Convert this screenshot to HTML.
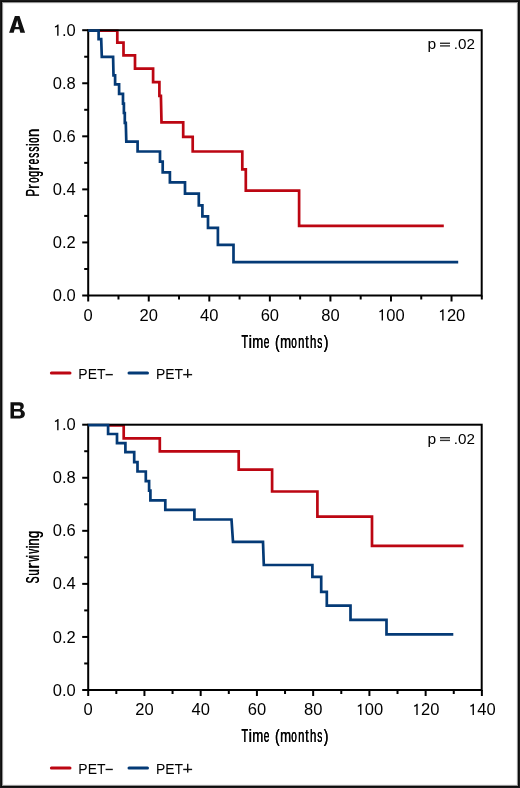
<!DOCTYPE html>
<html><head><meta charset="utf-8"><style>
html,body{margin:0;padding:0;background:#fff;}
body{width:520px;height:788px;overflow:hidden;position:relative;}
.frame{position:absolute;left:0;top:0;width:520px;height:788px;box-shadow:inset 0 0 0 1px #1a1a1a,inset 0 0 0 2px #0c0c0c,inset 0 0 0 3px #929292,inset 0 0 0 4px #f2f2f2;}
svg{position:absolute;left:0;top:0;will-change:transform;}
text{font-family:"Liberation Sans",sans-serif;fill:#000;}
.tk{font-size:16.3px;}
.ax{font-size:19px;stroke:#000;stroke-width:0.45px;}
.ax2{font-size:19px;stroke:#000;stroke-width:0.12px;}
.pv{font-size:14.3px;}
.lg{font-size:15.5px;}
.pl{font-size:23.5px;font-weight:bold;fill:#111;stroke:#111;stroke-width:0.7px;stroke-linejoin:miter;}
</style></head><body>
<svg width="520" height="788" viewBox="0 0 520 788">
<path fill="#111" fill-rule="evenodd" d="M9.1,32.65 L14.9,15.9 L19.5,15.9 L25.1,32.65 L20.3,32.65 L19.43,29.2 L14.68,29.2 L13.7,32.65 Z M15.33,26.9 L17.2,20.3 L18.86,26.9 Z"/>
<path fill="#111" fill-rule="evenodd" d="M10.5,402.3 L19.5,402.3 C22.3,402.3 23.8,403.8 23.8,405.9 C23.8,407.5 23,408.8 21.6,409.8 C23.7,410.5 24.9,412 24.9,414.1 C24.9,416.8 23,418.5 19.8,418.5 L10.5,418.5 Z M14,405.4 L19.2,405.4 C20.1,405.4 20.4,406.2 20.4,407.2 C20.4,408.3 19.9,409 19,409 L14,409 Z M14,411.6 L19.3,411.6 C20.4,411.6 20.9,412.5 20.9,413.7 C20.9,415 20.3,415.8 19.2,415.8 L14,415.8 Z"/>
<path d="M98.6,30.75 L117.3,30.75 L117.3,42.6 L123.5,42.6 L123.5,55.4 L135,55.4 L135,68.6 L153.1,68.6 L153.1,82.2 L159.4,82.2 L159.4,95.8 L160.9,95.8 L161.5,122.3 L183.2,122.3 L183.2,136.9 L192.7,136.9 L192.7,151.5 L242.3,151.5 L242.3,169.4 L245.8,169.4 L245.8,190.6 L299.1,190.6 L299.1,225.8 L443.8,225.8" fill="none" stroke="#bc0612" stroke-width="2.7" stroke-linejoin="miter" stroke-linecap="butt"/>
<rect x="88.2" y="30.2" width="393.5" height="265.3" fill="none" stroke="#000" stroke-width="2"/>
<line x1="82.2" y1="295.5" x2="88.2" y2="295.5" stroke="#000" stroke-width="2"/>
<text transform="translate(52.7,301.1) scale(1.015,1)" class="tk">0.0</text>
<line x1="84.2" y1="268.97" x2="88.2" y2="268.97" stroke="#000" stroke-width="2"/>
<line x1="82.2" y1="242.44" x2="88.2" y2="242.44" stroke="#000" stroke-width="2"/>
<text transform="translate(52.7,248.04) scale(1.015,1)" class="tk">0.2</text>
<line x1="84.2" y1="215.91" x2="88.2" y2="215.91" stroke="#000" stroke-width="2"/>
<line x1="82.2" y1="189.38" x2="88.2" y2="189.38" stroke="#000" stroke-width="2"/>
<text transform="translate(52.7,194.98) scale(1.015,1)" class="tk">0.4</text>
<line x1="84.2" y1="162.85" x2="88.2" y2="162.85" stroke="#000" stroke-width="2"/>
<line x1="82.2" y1="136.32" x2="88.2" y2="136.32" stroke="#000" stroke-width="2"/>
<text transform="translate(52.7,141.92) scale(1.015,1)" class="tk">0.6</text>
<line x1="84.2" y1="109.79" x2="88.2" y2="109.79" stroke="#000" stroke-width="2"/>
<line x1="82.2" y1="83.26" x2="88.2" y2="83.26" stroke="#000" stroke-width="2"/>
<text transform="translate(52.7,88.86) scale(1.015,1)" class="tk">0.8</text>
<line x1="84.2" y1="56.73" x2="88.2" y2="56.73" stroke="#000" stroke-width="2"/>
<line x1="82.2" y1="30.2" x2="88.2" y2="30.2" stroke="#000" stroke-width="2"/>
<path transform="translate(52.7,35.8) scale(0.008078,-0.007959)" d="M553,0 L723,0 L723,1409 L606,1409 C560,1310 440,1215 275,1195 L275,1040 C400,1055 490,1090 553,1140 Z" fill="#000"/><text transform="translate(61.9,35.8) scale(1.015,1)" class="tk">.0</text>
<line x1="88.2" y1="295.5" x2="88.2" y2="301.5" stroke="#000" stroke-width="2"/>
<text transform="translate(83.6,320.55) scale(1.015,1)" class="tk">0</text>
<line x1="118.48" y1="295.5" x2="118.48" y2="299.5" stroke="#000" stroke-width="2"/>
<line x1="148.75" y1="295.5" x2="148.75" y2="301.5" stroke="#000" stroke-width="2"/>
<text transform="translate(139.55,320.55) scale(1.015,1)" class="tk">20</text>
<line x1="179.03" y1="295.5" x2="179.03" y2="299.5" stroke="#000" stroke-width="2"/>
<line x1="209.31" y1="295.5" x2="209.31" y2="301.5" stroke="#000" stroke-width="2"/>
<text transform="translate(200.11,320.55) scale(1.015,1)" class="tk">40</text>
<line x1="239.58" y1="295.5" x2="239.58" y2="299.5" stroke="#000" stroke-width="2"/>
<line x1="269.86" y1="295.5" x2="269.86" y2="301.5" stroke="#000" stroke-width="2"/>
<text transform="translate(260.66,320.55) scale(1.015,1)" class="tk">60</text>
<line x1="300.14" y1="295.5" x2="300.14" y2="299.5" stroke="#000" stroke-width="2"/>
<line x1="330.42" y1="295.5" x2="330.42" y2="301.5" stroke="#000" stroke-width="2"/>
<text transform="translate(321.21,320.55) scale(1.015,1)" class="tk">80</text>
<line x1="360.69" y1="295.5" x2="360.69" y2="299.5" stroke="#000" stroke-width="2"/>
<line x1="390.97" y1="295.5" x2="390.97" y2="301.5" stroke="#000" stroke-width="2"/>
<path transform="translate(377.17,320.55) scale(0.008078,-0.007959)" d="M553,0 L723,0 L723,1409 L606,1409 C560,1310 440,1215 275,1195 L275,1040 C400,1055 490,1090 553,1140 Z" fill="#000"/><text transform="translate(386.37,320.55) scale(1.015,1)" class="tk">00</text>
<line x1="421.25" y1="295.5" x2="421.25" y2="299.5" stroke="#000" stroke-width="2"/>
<line x1="451.52" y1="295.5" x2="451.52" y2="301.5" stroke="#000" stroke-width="2"/>
<path transform="translate(437.72,320.55) scale(0.008078,-0.007959)" d="M553,0 L723,0 L723,1409 L606,1409 C560,1310 440,1215 275,1195 L275,1040 C400,1055 490,1090 553,1140 Z" fill="#000"/><text transform="translate(446.92,320.55) scale(1.015,1)" class="tk">20</text>
<line x1="481.8" y1="295.5" x2="481.8" y2="299.5" stroke="#000" stroke-width="2"/>
<path d="M88.2,30.7 L98.6,30.7 L98.6,39.2 L101.2,39.2 L101.8,56.9 L113.1,56.9 L113.5,75.4 L115.1,75.4 L115.1,84.4 L119.1,84.4 L119.1,93.8 L123,93.8 L123,103.6 L123.9,103.6 L123.9,113 L124.8,113 L124.8,122.8 L125.8,122.8 L126.3,141.7 L137.6,141.7 L137.6,151.5 L160,151.5 L160,161.7 L162.7,161.7 L162.7,172.3 L169.9,172.3 L169.9,182.3 L185,182.3 L185,193.6 L198.8,193.6 L198.8,205.3 L202.4,205.3 L202.4,216.3 L208,216.3 L208,227.9 L217.9,227.9 L217.9,244.9 L233.5,244.9 L233.5,262.2 L458.2,262.2" fill="none" stroke="#043a76" stroke-width="2.7" stroke-linejoin="miter" stroke-linecap="butt"/>
<text transform="translate(0,347.5) translate(241.62,0) scale(0.572,1)" x="-0.43" class="ax2">T</text><text transform="translate(0,347.5) translate(241.74,0) scale(0.572,1)" x="-0.43" class="ax2">T</text><text transform="translate(0,347.5) translate(249.52,0) scale(0.808,1)" x="-1.27" class="ax2">i</text><text transform="translate(0,347.5) translate(249.64,0) scale(0.808,1)" x="-1.27" class="ax2">i</text><text transform="translate(0,347.5) translate(253.02,0) scale(0.695,1)" x="-1.26" class="ax2">m</text><text transform="translate(0,347.5) translate(253.14,0) scale(0.695,1)" x="-1.26" class="ax2">m</text><text transform="translate(0,347.5) translate(264.12,0) scale(0.533,1)" x="-0.81" class="ax2">e</text><text transform="translate(0,347.5) translate(264.24,0) scale(0.533,1)" x="-0.81" class="ax2">e</text><text transform="translate(0,347.5) translate(275.72,0) scale(0.725,1)" x="-1.18" class="ax2">(</text><text transform="translate(0,347.5) translate(275.84,0) scale(0.725,1)" x="-1.18" class="ax2">(</text><text transform="translate(0,347.5) translate(280.92,0) scale(0.695,1)" x="-1.26" class="ax2">m</text><text transform="translate(0,347.5) translate(281.04,0) scale(0.695,1)" x="-1.26" class="ax2">m</text><text transform="translate(0,347.5) translate(291.62,0) scale(0.529,1)" x="-0.8" class="ax2">o</text><text transform="translate(0,347.5) translate(291.74,0) scale(0.529,1)" x="-0.8" class="ax2">o</text><text transform="translate(0,347.5) translate(298.82,0) scale(0.589,1)" x="-1.26" class="ax2">n</text><text transform="translate(0,347.5) translate(298.94,0) scale(0.589,1)" x="-1.26" class="ax2">n</text><text transform="translate(0,347.5) translate(305.42,0) scale(0.649,1)" x="-0.29" class="ax2">t</text><text transform="translate(0,347.5) translate(305.54,0) scale(0.649,1)" x="-0.29" class="ax2">t</text><text transform="translate(0,347.5) translate(310.72,0) scale(0.599,1)" x="-1.32" class="ax2">h</text><text transform="translate(0,347.5) translate(310.84,0) scale(0.599,1)" x="-1.32" class="ax2">h</text><text transform="translate(0,347.5) translate(317.52,0) scale(0.537,1)" x="-0.53" class="ax2">s</text><text transform="translate(0,347.5) translate(317.64,0) scale(0.537,1)" x="-0.53" class="ax2">s</text><text transform="translate(0,347.5) translate(323.72,0) scale(0.744,1)" x="-0.11" class="ax2">)</text><text transform="translate(0,347.5) translate(323.84,0) scale(0.744,1)" x="-0.11" class="ax2">)</text>
<text transform="translate(39.2,196.0) rotate(-90) translate(0.22,0) scale(0.608,1)" x="-1.56" class="ax2">P</text><text transform="translate(39.2,196.0) rotate(-90) translate(0.34,0) scale(0.608,1)" x="-1.56" class="ax2">P</text><text transform="translate(39.2,196.0) rotate(-90) translate(8.02,0) scale(0.705,1)" x="-1.26" class="ax2">r</text><text transform="translate(39.2,196.0) rotate(-90) translate(8.14,0) scale(0.705,1)" x="-1.26" class="ax2">r</text><text transform="translate(39.2,196.0) rotate(-90) translate(13.62,0) scale(0.500,1)" x="-0.8" class="ax2">o</text><text transform="translate(39.2,196.0) rotate(-90) translate(13.74,0) scale(0.500,1)" x="-0.8" class="ax2">o</text><text transform="translate(39.2,196.0) rotate(-90) translate(19.47,0) scale(0.573,1)" x="-0.8" class="ax2">g</text><text transform="translate(39.2,196.0) rotate(-90) translate(19.59,0) scale(0.573,1)" x="-0.8" class="ax2">g</text><text transform="translate(39.2,196.0) rotate(-90) translate(26.32,0) scale(0.916,1)" x="-1.26" class="ax2">r</text><text transform="translate(39.2,196.0) rotate(-90) translate(26.44,0) scale(0.916,1)" x="-1.26" class="ax2">r</text><text transform="translate(39.2,196.0) rotate(-90) translate(32.02,0) scale(0.533,1)" x="-0.81" class="ax2">e</text><text transform="translate(39.2,196.0) rotate(-90) translate(32.14,0) scale(0.533,1)" x="-0.81" class="ax2">e</text><text transform="translate(39.2,196.0) rotate(-90) translate(38.52,0) scale(0.525,1)" x="-0.53" class="ax2">s</text><text transform="translate(39.2,196.0) rotate(-90) translate(38.64,0) scale(0.525,1)" x="-0.53" class="ax2">s</text><text transform="translate(39.2,196.0) rotate(-90) translate(44.62,0) scale(0.525,1)" x="-0.53" class="ax2">s</text><text transform="translate(39.2,196.0) rotate(-90) translate(44.74,0) scale(0.525,1)" x="-0.53" class="ax2">s</text><text transform="translate(39.2,196.0) rotate(-90) translate(50.72,0) scale(0.629,1)" x="-1.27" class="ax2">i</text><text transform="translate(39.2,196.0) rotate(-90) translate(50.84,0) scale(0.629,1)" x="-1.27" class="ax2">i</text><text transform="translate(39.2,196.0) rotate(-90) translate(53.47,0) scale(0.513,1)" x="-0.8" class="ax2">o</text><text transform="translate(39.2,196.0) rotate(-90) translate(53.59,0) scale(0.513,1)" x="-0.8" class="ax2">o</text><text transform="translate(39.2,196.0) rotate(-90) translate(59.82,0) scale(0.793,1)" x="-1.26" class="ax2">n</text><text transform="translate(39.2,196.0) rotate(-90) translate(59.94,0) scale(0.793,1)" x="-1.26" class="ax2">n</text>
<text transform="translate(427.4,49) scale(1.09,1)" class="pv">p</text>
<rect x="440" y="42.6" width="10" height="1.3" fill="#1e1e1e"/>
<rect x="440" y="45.2" width="10" height="1.4" fill="#333"/>
<text transform="translate(453.7,49) scale(1.065,1)" class="pv">.02</text>
<line x1="51.4" y1="373.1" x2="70" y2="373.1" stroke="#bc0612" stroke-width="3" stroke-linecap="round"/>
<text transform="translate(78.35,378.8) scale(0.9,1)" class="lg">PET</text>
<rect x="105.6" y="373.95" width="7.2" height="1.4" fill="#111"/>
<line x1="129" y1="373.1" x2="147.5" y2="373.1" stroke="#043a76" stroke-width="3" stroke-linecap="round"/>
<text transform="translate(155.95,378.8) scale(0.9,1)" class="lg">PET</text>
<rect x="183.2" y="373.95" width="8.9" height="1.4" fill="#111"/>
<rect x="187" y="369" width="1.4" height="8.8" fill="#111"/>
<path d="M108.1,425.5 L123.7,425.5 L123.7,438.3 L159.8,438.3 L159.8,451.3 L238.7,451.3 L238.7,469.6 L272.1,469.6 L272.1,491.5 L317.4,491.5 L317.4,516.6 L372,516.6 L372,545.8 L463.5,545.8" fill="none" stroke="#bc0612" stroke-width="2.7" stroke-linejoin="miter" stroke-linecap="butt"/>
<rect x="88.2" y="424.7" width="393.5" height="265.3" fill="none" stroke="#000" stroke-width="2"/>
<line x1="82.2" y1="690" x2="88.2" y2="690" stroke="#000" stroke-width="2"/>
<text transform="translate(52.7,695.6) scale(1.015,1)" class="tk">0.0</text>
<line x1="84.2" y1="663.47" x2="88.2" y2="663.47" stroke="#000" stroke-width="2"/>
<line x1="82.2" y1="636.94" x2="88.2" y2="636.94" stroke="#000" stroke-width="2"/>
<text transform="translate(52.7,642.54) scale(1.015,1)" class="tk">0.2</text>
<line x1="84.2" y1="610.41" x2="88.2" y2="610.41" stroke="#000" stroke-width="2"/>
<line x1="82.2" y1="583.88" x2="88.2" y2="583.88" stroke="#000" stroke-width="2"/>
<text transform="translate(52.7,589.48) scale(1.015,1)" class="tk">0.4</text>
<line x1="84.2" y1="557.35" x2="88.2" y2="557.35" stroke="#000" stroke-width="2"/>
<line x1="82.2" y1="530.82" x2="88.2" y2="530.82" stroke="#000" stroke-width="2"/>
<text transform="translate(52.7,536.42) scale(1.015,1)" class="tk">0.6</text>
<line x1="84.2" y1="504.29" x2="88.2" y2="504.29" stroke="#000" stroke-width="2"/>
<line x1="82.2" y1="477.76" x2="88.2" y2="477.76" stroke="#000" stroke-width="2"/>
<text transform="translate(52.7,483.36) scale(1.015,1)" class="tk">0.8</text>
<line x1="84.2" y1="451.23" x2="88.2" y2="451.23" stroke="#000" stroke-width="2"/>
<line x1="82.2" y1="424.7" x2="88.2" y2="424.7" stroke="#000" stroke-width="2"/>
<path transform="translate(52.7,430.3) scale(0.008078,-0.007959)" d="M553,0 L723,0 L723,1409 L606,1409 C560,1310 440,1215 275,1195 L275,1040 C400,1055 490,1090 553,1140 Z" fill="#000"/><text transform="translate(61.9,430.3) scale(1.015,1)" class="tk">.0</text>
<line x1="88.2" y1="690" x2="88.2" y2="696" stroke="#000" stroke-width="2"/>
<text transform="translate(83.6,715.05) scale(1.015,1)" class="tk">0</text>
<line x1="116.32" y1="690" x2="116.32" y2="694" stroke="#000" stroke-width="2"/>
<line x1="144.44" y1="690" x2="144.44" y2="696" stroke="#000" stroke-width="2"/>
<text transform="translate(135.24,715.05) scale(1.015,1)" class="tk">20</text>
<line x1="172.56" y1="690" x2="172.56" y2="694" stroke="#000" stroke-width="2"/>
<line x1="200.68" y1="690" x2="200.68" y2="696" stroke="#000" stroke-width="2"/>
<text transform="translate(191.48,715.05) scale(1.015,1)" class="tk">40</text>
<line x1="228.8" y1="690" x2="228.8" y2="694" stroke="#000" stroke-width="2"/>
<line x1="256.92" y1="690" x2="256.92" y2="696" stroke="#000" stroke-width="2"/>
<text transform="translate(247.72,715.05) scale(1.015,1)" class="tk">60</text>
<line x1="285.04" y1="690" x2="285.04" y2="694" stroke="#000" stroke-width="2"/>
<line x1="313.16" y1="690" x2="313.16" y2="696" stroke="#000" stroke-width="2"/>
<text transform="translate(303.96,715.05) scale(1.015,1)" class="tk">80</text>
<line x1="341.28" y1="690" x2="341.28" y2="694" stroke="#000" stroke-width="2"/>
<line x1="369.4" y1="690" x2="369.4" y2="696" stroke="#000" stroke-width="2"/>
<path transform="translate(355.6,715.05) scale(0.008078,-0.007959)" d="M553,0 L723,0 L723,1409 L606,1409 C560,1310 440,1215 275,1195 L275,1040 C400,1055 490,1090 553,1140 Z" fill="#000"/><text transform="translate(364.8,715.05) scale(1.015,1)" class="tk">00</text>
<line x1="397.52" y1="690" x2="397.52" y2="694" stroke="#000" stroke-width="2"/>
<line x1="425.64" y1="690" x2="425.64" y2="696" stroke="#000" stroke-width="2"/>
<path transform="translate(411.84,715.05) scale(0.008078,-0.007959)" d="M553,0 L723,0 L723,1409 L606,1409 C560,1310 440,1215 275,1195 L275,1040 C400,1055 490,1090 553,1140 Z" fill="#000"/><text transform="translate(421.04,715.05) scale(1.015,1)" class="tk">20</text>
<line x1="453.76" y1="690" x2="453.76" y2="694" stroke="#000" stroke-width="2"/>
<line x1="481.88" y1="690" x2="481.88" y2="696" stroke="#000" stroke-width="2"/>
<path transform="translate(468.08,715.05) scale(0.008078,-0.007959)" d="M553,0 L723,0 L723,1409 L606,1409 C560,1310 440,1215 275,1195 L275,1040 C400,1055 490,1090 553,1140 Z" fill="#000"/><text transform="translate(477.28,715.05) scale(1.015,1)" class="tk">40</text>
<path d="M88.2,425.1 L108.1,425.1 L108.1,434 L117,434 L117,443.1 L125.4,443.1 L125.4,452.2 L134.2,452.2 L134.2,462.2 L137.5,462.2 L137.5,471.5 L145.8,471.5 L145.8,481.2 L149.1,481.2 L149.1,490.7 L150.4,490.7 L150.4,500.3 L165.3,500.3 L165.3,509.8 L194.4,509.8 L194.4,519.5 L231.5,519.5 L233,541.9 L263,541.9 L263.8,565 L312.4,565 L312.4,576.8 L321.2,576.8 L321.2,591.9 L326.8,591.9 L326.8,605.6 L350.5,605.6 L350.5,619.9 L386.5,619.9 L386.5,634.3 L453.3,634.3" fill="none" stroke="#043a76" stroke-width="2.7" stroke-linejoin="miter" stroke-linecap="butt"/>
<text transform="translate(0,742) translate(241.62,0) scale(0.572,1)" x="-0.43" class="ax2">T</text><text transform="translate(0,742) translate(241.74,0) scale(0.572,1)" x="-0.43" class="ax2">T</text><text transform="translate(0,742) translate(249.52,0) scale(0.808,1)" x="-1.27" class="ax2">i</text><text transform="translate(0,742) translate(249.64,0) scale(0.808,1)" x="-1.27" class="ax2">i</text><text transform="translate(0,742) translate(253.02,0) scale(0.695,1)" x="-1.26" class="ax2">m</text><text transform="translate(0,742) translate(253.14,0) scale(0.695,1)" x="-1.26" class="ax2">m</text><text transform="translate(0,742) translate(264.12,0) scale(0.533,1)" x="-0.81" class="ax2">e</text><text transform="translate(0,742) translate(264.24,0) scale(0.533,1)" x="-0.81" class="ax2">e</text><text transform="translate(0,742) translate(275.72,0) scale(0.725,1)" x="-1.18" class="ax2">(</text><text transform="translate(0,742) translate(275.84,0) scale(0.725,1)" x="-1.18" class="ax2">(</text><text transform="translate(0,742) translate(280.92,0) scale(0.695,1)" x="-1.26" class="ax2">m</text><text transform="translate(0,742) translate(281.04,0) scale(0.695,1)" x="-1.26" class="ax2">m</text><text transform="translate(0,742) translate(291.62,0) scale(0.529,1)" x="-0.8" class="ax2">o</text><text transform="translate(0,742) translate(291.74,0) scale(0.529,1)" x="-0.8" class="ax2">o</text><text transform="translate(0,742) translate(298.82,0) scale(0.589,1)" x="-1.26" class="ax2">n</text><text transform="translate(0,742) translate(298.94,0) scale(0.589,1)" x="-1.26" class="ax2">n</text><text transform="translate(0,742) translate(305.42,0) scale(0.649,1)" x="-0.29" class="ax2">t</text><text transform="translate(0,742) translate(305.54,0) scale(0.649,1)" x="-0.29" class="ax2">t</text><text transform="translate(0,742) translate(310.72,0) scale(0.599,1)" x="-1.32" class="ax2">h</text><text transform="translate(0,742) translate(310.84,0) scale(0.599,1)" x="-1.32" class="ax2">h</text><text transform="translate(0,742) translate(317.52,0) scale(0.537,1)" x="-0.53" class="ax2">s</text><text transform="translate(0,742) translate(317.64,0) scale(0.537,1)" x="-0.53" class="ax2">s</text><text transform="translate(0,742) translate(323.72,0) scale(0.744,1)" x="-0.11" class="ax2">)</text><text transform="translate(0,742) translate(323.84,0) scale(0.744,1)" x="-0.11" class="ax2">)</text>
<text transform="translate(39.2,583.2) rotate(-90) translate(0.22,0) scale(0.544,1)" x="-0.86" class="ax2">S</text><text transform="translate(39.2,583.2) rotate(-90) translate(0.34,0) scale(0.544,1)" x="-0.86" class="ax2">S</text><text transform="translate(39.2,583.2) rotate(-90) translate(8.27,0) scale(0.607,1)" x="-1.23" class="ax2">u</text><text transform="translate(39.2,583.2) rotate(-90) translate(8.39,0) scale(0.607,1)" x="-1.23" class="ax2">u</text><text transform="translate(39.2,583.2) rotate(-90) translate(15.52,0) scale(1.000,1)" x="-1.26" class="ax2">r</text><text transform="translate(39.2,583.2) rotate(-90) translate(15.64,0) scale(1.000,1)" x="-1.26" class="ax2">r</text><text transform="translate(39.2,583.2) rotate(-90) translate(21.52,0) scale(0.500,1)" x="-0.06" class="ax2">v</text><text transform="translate(39.2,583.2) rotate(-90) translate(21.64,0) scale(0.500,1)" x="-0.06" class="ax2">v</text><text transform="translate(39.2,583.2) rotate(-90) translate(26.52,0) scale(0.509,1)" x="-1.27" class="ax2">i</text><text transform="translate(39.2,583.2) rotate(-90) translate(26.64,0) scale(0.509,1)" x="-1.27" class="ax2">i</text><text transform="translate(39.2,583.2) rotate(-90) translate(29.52,0) scale(0.500,1)" x="-0.06" class="ax2">v</text><text transform="translate(39.2,583.2) rotate(-90) translate(29.64,0) scale(0.500,1)" x="-0.06" class="ax2">v</text><text transform="translate(39.2,583.2) rotate(-90) translate(35.62,0) scale(0.629,1)" x="-1.27" class="ax2">i</text><text transform="translate(39.2,583.2) rotate(-90) translate(35.74,0) scale(0.629,1)" x="-1.27" class="ax2">i</text><text transform="translate(39.2,583.2) rotate(-90) translate(38.32,0) scale(0.688,1)" x="-1.26" class="ax2">n</text><text transform="translate(39.2,583.2) rotate(-90) translate(38.44,0) scale(0.688,1)" x="-1.26" class="ax2">n</text><text transform="translate(39.2,583.2) rotate(-90) translate(45.52,0) scale(0.696,1)" x="-0.8" class="ax2">g</text><text transform="translate(39.2,583.2) rotate(-90) translate(45.64,0) scale(0.696,1)" x="-0.8" class="ax2">g</text>
<text transform="translate(427.4,443.5) scale(1.09,1)" class="pv">p</text>
<rect x="440" y="437.1" width="10" height="1.3" fill="#1e1e1e"/>
<rect x="440" y="439.7" width="10" height="1.4" fill="#333"/>
<text transform="translate(453.7,443.5) scale(1.065,1)" class="pv">.02</text>
<line x1="51.4" y1="767.9" x2="70" y2="767.9" stroke="#bc0612" stroke-width="3" stroke-linecap="round"/>
<text transform="translate(78.35,773.6) scale(0.9,1)" class="lg">PET</text>
<rect x="105.6" y="768.75" width="7.2" height="1.4" fill="#111"/>
<line x1="129" y1="767.9" x2="147.5" y2="767.9" stroke="#043a76" stroke-width="3" stroke-linecap="round"/>
<text transform="translate(155.95,773.6) scale(0.9,1)" class="lg">PET</text>
<rect x="183.2" y="768.75" width="8.9" height="1.4" fill="#111"/>
<rect x="187" y="763.8" width="1.4" height="8.8" fill="#111"/>
</svg>
<div class="frame"></div>
</body></html>
